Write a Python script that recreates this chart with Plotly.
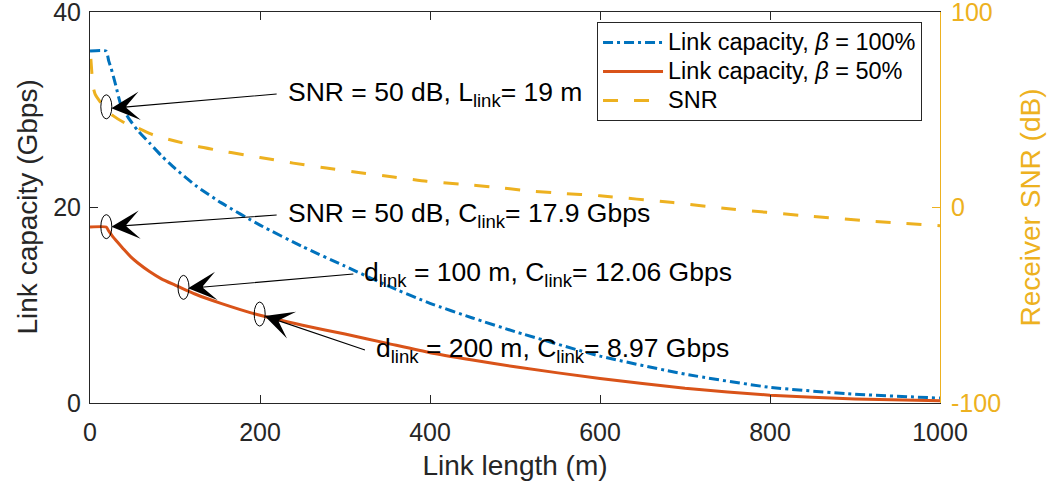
import plotly.graph_objects as go

# ---------------- data ----------------
link_len_blue = [0, 19, 22, 25, 30, 36, 45, 56, 70, 84, 100, 125, 154, 200, 250, 300,
                 350, 400, 450, 500, 600, 700, 800, 900, 1000]
cap_beta100 = [36.0, 36.0, 35.0, 34.2, 32.6, 30.6, 29.2, 27.9, 26.6, 25.3, 24.0, 22.2,
               20.5, 18.2, 16.0, 14.0, 12.0, 10.2, 8.7, 7.3, 4.8, 2.95, 1.6, 0.9, 0.5]

link_len_orange = [0, 19, 22, 27, 33, 40, 48, 56, 70, 84, 100, 125, 154, 200, 250, 300,
                   350, 400, 450, 500, 600, 700, 800, 900, 1000]
cap_beta50 = [18.0, 18.0, 17.6, 17.0, 16.4, 15.7, 14.95, 14.35, 13.45, 12.7, 12.06, 11.1,
              10.2, 8.97, 7.95, 7.05, 6.1, 5.15, 4.4, 3.7, 2.5, 1.5, 0.8, 0.42, 0.22]

link_len_snr = [1, 2, 3.5, 6, 12, 19, 27, 41, 56, 74, 100, 127, 150, 182, 200, 239, 278,
                318, 357, 396, 435, 474, 514, 553, 600, 686, 757, 835, 914, 1000]
snr_db = [76, 70, 62, 58, 54, 50, 47, 43.2, 40.7, 37.2, 34, 31.2, 29.3, 26.9, 25.6, 22.7,
          20.2, 17.8, 15.6, 13.4, 12.0, 10.5, 8.6, 7.3, 6.0, 2.5, -0.9, -4.0, -6.8, -9.3]

x_ticks = [0, 200, 400, 600, 800, 1000]
y_left_ticks = [0, 20, 40]
y_right_ticks = [-100, 0, 100]
y_right_ticktext = ["-100", "0", "100"]

legend_names = ["Link capacity, <i>β</i> = 100%", "Link capacity, <i>β</i> = 50%", "SNR"]

# callouts: (head x, head y, tail x, tail y, text)
callouts = [
    (25.1, 30.15, 219.6, 31.61, "SNR = 50 dB, L<sub>link</sub>= 19 m"),
    (25.1, 18.04, 219.6, 19.23, "SNR = 50 dB, C<sub>link</sub>= 17.9 Gbps"),
    (115.3, 11.73, 309.8, 13.2, "d<sub>link</sub> = 100 m, C<sub>link</sub>= 12.06 Gbps"),
    (205.5, 8.9, 323.5, 5.42, "d<sub>link</sub> = 200 m, C<sub>link</sub>= 8.97 Gbps"),
]
# ellipse markers (x, y on left axis)
marks = [(19.2, 30.3), (19.2, 18.04), (110, 11.83), (199.6, 9.1)]

BLUE = "#0072BD"
ORANGE = "#D95319"
YELLOW = "#EDB120"
AX = "#262626"
FONT = "Liberation Sans, Arial, sans-serif"


def big(label):
    return '<span style="font-size:23.5px">' + label + "</span>"


fig = go.Figure()
fig.add_trace(go.Scatter(x=link_len_blue, y=cap_beta100, mode="lines", name=big(legend_names[0]),
                         line=dict(color=BLUE, width=3, dash="10px,4px,3px,4px",
                                   shape="spline", smoothing=0.5)))
fig.add_trace(go.Scatter(x=link_len_orange, y=cap_beta50, mode="lines", name=big(legend_names[1]),
                         line=dict(color=ORANGE, width=3, shape="spline", smoothing=0.5)))
fig.add_trace(go.Scatter(x=link_len_snr, y=snr_db, mode="lines", name=big(legend_names[2]),
                         yaxis="y2", line=dict(color=YELLOW, width=3, dash="15px,16px",
                                               shape="spline", smoothing=0.5)))

for hx, hy, tx, ty, txt in callouts:
    fig.add_annotation(x=hx, y=hy, ax=tx, ay=ty, xref="x", yref="y", axref="x", ayref="y",
                       text=txt, showarrow=True, arrowhead=3, arrowsize=4.3, arrowwidth=1.1,
                       arrowcolor="black", standoff=0, xanchor="left", yanchor="middle",
                       borderpad=10, font=dict(family=FONT, size=26.5, color="black"))

# left axis title (placed as rotated text left of the tick labels)
fig.add_annotation(text="Link capacity (Gbps)", xref="paper", yref="paper", x=0, y=0.5,
                   xanchor="center", yanchor="middle", xshift=-63, textangle=-90,
                   showarrow=False, font=dict(family=FONT, size=28, color=AX))

for mx, my in marks:
    fig.add_shape(type="circle", xref="x", yref="y", xsizemode="pixel", ysizemode="pixel",
                  xanchor=mx, yanchor=my, x0=-5.5, x1=5.5, y0=-12, y1=12,
                  line=dict(color="black", width=1), fillcolor="rgba(0,0,0,0)")

fig.update_layout(
    width=1052, height=492,
    margin=dict(l=90, r=112, t=12, b=89, autoexpand=False),
    paper_bgcolor="white", plot_bgcolor="white",
    font=dict(family=FONT, color=AX),
    showlegend=True,
    legend=dict(x=0.5965, y=0.9744, xanchor="left", yanchor="top",
                bgcolor="white", bordercolor=AX, borderwidth=1,
                font=dict(family=FONT, size=20, color="black"),
                itemwidth=60, tracegroupgap=0),
    xaxis=dict(range=[0, 1000], tickvals=x_ticks, ticks="inside", ticklen=8,
               tickcolor=AX, showline=True, linecolor=AX, linewidth=1, mirror="ticks",
               showgrid=False, zeroline=False, tickfont=dict(size=25, color=AX),
               ticklabelstandoff=7, ticklabeloverflow="allow", automargin=False,
               title=dict(text="Link length (m)", font=dict(size=28, color=AX), standoff=10)),
    yaxis=dict(range=[0, 40], tickvals=y_left_ticks, ticks="inside", ticklen=8,
               tickcolor=AX, showline=True, linecolor=AX, linewidth=1, mirror=False,
               showgrid=False, zeroline=False, tickfont=dict(size=25, color=AX),
               ticklabelstandoff=3, ticklabeloverflow="allow", automargin=False),
    yaxis2=dict(range=[-100, 100], tickvals=y_right_ticks, ticktext=y_right_ticktext,
                overlaying="y", side="right", ticks="inside", ticklen=8,
                tickcolor=YELLOW, showline=True, linecolor=YELLOW, linewidth=1,
                showgrid=False, zeroline=False, tickfont=dict(size=25, color=YELLOW),
                ticklabelstandoff=5, ticklabeloverflow="allow", automargin=False,
                title=dict(text="Receiver SNR (dB)", font=dict(size=28, color=YELLOW), standoff=20)),
)

fig.write_html("out.html")
